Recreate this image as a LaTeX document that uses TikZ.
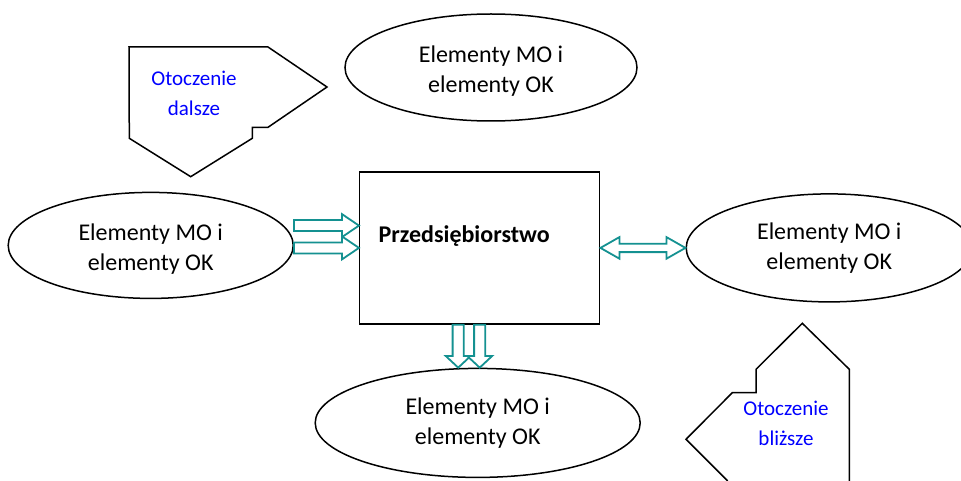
\documentclass[tikz,border=0pt]{standalone}
\usepackage{fontspec}
\setmainfont{Carlito}
\usetikzlibrary{shapes.geometric, positioning, calc}
\definecolor{arrteal}{RGB}{20,145,145}
\definecolor{notes}{RGB}{0,0,255}

% hollow block arrow: #1 start, #2 tip, #3 half shaft, #4 half head, #5 head length
\newcommand{\blockarrow}[5]{%
  \coordinate (hb) at ($(#2)!#5!(#1)$);
  \draw[hollow] ($(#1)!#3!90:(#2)$) -- ($(hb)!#3!90:(#2)$) -- ($(hb)!#4!90:(#2)$)
    -- (#2) -- ($(hb)!#4!-90:(#2)$) -- ($(hb)!#3!-90:(#2)$) -- ($(#1)!#3!-90:(#2)$) -- cycle;
}
% same with a head at both ends
\newcommand{\blockarrowboth}[5]{%
  \coordinate (hb1) at ($(#1)!#5!(#2)$);
  \coordinate (hb2) at ($(#2)!#5!(#1)$);
  \draw[hollow] (#1) -- ($(hb1)!#4!90:(#2)$) -- ($(hb1)!#3!90:(#2)$) -- ($(hb2)!#3!-90:(#1)$)
    -- ($(hb2)!#4!-90:(#1)$) -- (#2) -- ($(hb2)!#4!90:(#1)$) -- ($(hb2)!#3!90:(#1)$)
    -- ($(hb1)!#3!-90:(#2)$) -- ($(hb1)!#4!-90:(#2)$) -- cycle;
}

\tikzset{
  element/.style={draw, ellipse, line width=1.5pt, inner sep=0pt, align=center,
    text height=47pt, text depth=4.6pt, font=\fontsize{24}{30}\selectfont},
  lowtext/.style={text height=55pt},
  hollow/.style={draw=arrteal, fill=white, line width=1.8pt, line join=miter},
  envnote/.style={text=notes, align=center, font=\fontsize{21}{30}\selectfont},
  outline/.style={line width=1.5pt, line join=miter}
}

\begin{document}
\begin{tikzpicture}[x=1pt, y=-1pt]
  \useasboundingbox (0,0) rectangle (961,481);

  % the firm in the middle
  \node [draw, rectangle, line width=1.5pt, minimum width=240pt, minimum height=152pt] (firm) at (479.7,247.9) {};
  \node [font=\fontsize{24}{30}\selectfont\bfseries] (firmname) at ([xshift=-15.5pt, yshift=12pt]firm.center) {Przedsiębiorstwo};

  % elements around it
  \node [element, lowtext, minimum width=292pt, minimum height=107pt] (eltop) at (491,67.5) {Elementy MO i\\elementy OK};
  \node [element, lowtext, minimum width=285pt, minimum height=106pt, left=65pt of firm, yshift=2.5pt] (elleft) {Elementy MO i\\elementy OK};
  \node [element, minimum width=286pt, minimum height=108pt, right=85pt of firm] (elright) {Elementy MO i\\elementy OK};
  \node [element, minimum width=325pt, minimum height=109pt, below=43pt of firm, xshift=-2pt] (elbottom) {Elementy MO i\\elementy OK};

  % far and near surroundings
  \draw [outline] (129,47) -- (268,47) -- (327,87) -- (268,127.3) -- (252.3,127.3) -- (252.3,138.3)
    -- (190.7,176.7) -- (129.3,138.3) -- cycle;
  \node [envnote] (far) at (194,93.5) {Otoczenie\\dalsze};
  \draw [outline] (727.7,481) -- (686,439.3) -- (732.3,392.7) -- (756,392.7) -- (756,369.3)
    -- (802.3,323.3) -- (849.3,369.3) -- (849.3,481);
  \node [envnote] (near) at (786,423.5) {Otoczenie\\bliższe};

  % flows
  \coordinate (intip1) at ([yshift=22.3pt]firm.west);
  \coordinate (intip2) at (firm.west);
  \coordinate (inbeg1) at (elleft.east |- intip1);
  \coordinate (inbeg2) at (elleft.east |- intip2);
  \blockarrow{inbeg1}{intip1}{5.5pt}{11.5pt}{17pt}
  \blockarrow{inbeg2}{intip2}{5.5pt}{11.5pt}{17pt}

  \blockarrowboth{firm.east}{elright.west}{4.2pt}{10.8pt}{19pt}

  \coordinate (outbeg2) at (firm.south);
  \coordinate (outtip2) at (firm.south |- elbottom.north);
  \coordinate (outbeg1) at ([xshift=-21.5pt]outbeg2);
  \coordinate (outtip1) at ([xshift=-21.5pt]outtip2);
  \blockarrow{outbeg1}{outtip1}{5.6pt}{12.5pt}{11.7pt}
  \blockarrow{outbeg2}{outtip2}{5.6pt}{12.5pt}{11.7pt}
\end{tikzpicture}
\end{document}
